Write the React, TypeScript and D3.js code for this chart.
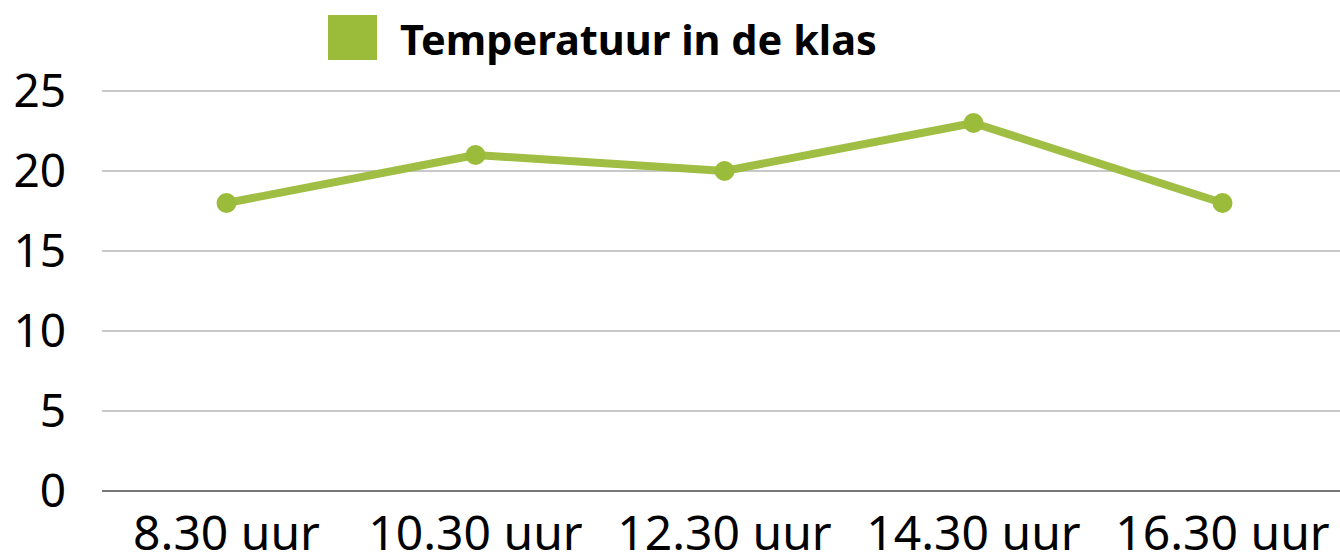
import React, { useRef, useEffect } from 'react';
import * as d3 from 'd3';

const categories = ['8.30 uur', '10.30 uur', '12.30 uur', '14.30 uur', '16.30 uur'];
const temperatures = [18, 21, 20, 23, 18];
const yTicks = [0, 5, 10, 15, 20, 25];
const seriesName = 'Temperatuur in de klas';

function App() {
  const chartRef = useRef<SVGSVGElement>(null);

  useEffect(() => {
    const svg = d3.select(chartRef.current);
    svg.selectAll('*').remove();

    const width = 1340;
    const green = '#9bbb3b';
    const font = '"Noto Sans", sans-serif';

    const xScale = d3.scaleBand<string>().domain(categories).range([102, 1347]);
    const yScale = d3.scaleLinear().domain([0, 25]).range([491, 91]);
    const xMid = (c: string) => xScale(c)! + xScale.bandwidth() / 2;

    // gridlines
    svg.append('g')
      .selectAll('line')
      .data(yTicks.filter((t) => t > 0))
      .join('line')
      .attr('x1', 102)
      .attr('x2', width)
      .attr('y1', (d) => yScale(d))
      .attr('y2', (d) => yScale(d))
      .attr('stroke', '#c8c8c8')
      .attr('stroke-width', 2);

    svg.append('line')
      .attr('x1', 102)
      .attr('x2', width)
      .attr('y1', yScale(0))
      .attr('y2', yScale(0))
      .attr('stroke', '#777')
      .attr('stroke-width', 2);

    // y labels
    svg.append('g')
      .selectAll('text')
      .data(yTicks)
      .join('text')
      .attr('x', 66)
      .attr('y', (d) => yScale(d))
      .attr('dy', '0.35em')
      .attr('text-anchor', 'end')
      .attr('font-family', font)
      .attr('font-size', 46)
      .attr('fill', '#000')
      .text((d) => d);

    // x labels
    svg.append('g')
      .selectAll('text')
      .data(categories)
      .join('text')
      .attr('x', (d) => xMid(d))
      .attr('y', 550)
      .attr('text-anchor', 'middle')
      .attr('font-family', font)
      .attr('font-size', 48)
      .attr('fill', '#000')
      .text((d) => d);

    const line = d3.line<number>()
      .x((d, i) => xMid(categories[i]))
      .y((d) => yScale(d));

    svg.append('path')
      .datum(temperatures)
      .attr('fill', 'none')
      .attr('stroke', green)
      .attr('stroke-width', 8)
      .attr('stroke-linejoin', 'round')
      .attr('opacity', 0.96)
      .attr('d', line);

    svg.append('g')
      .selectAll('circle')
      .data(temperatures)
      .join('circle')
      .attr('cx', (d, i) => xMid(categories[i]))
      .attr('cy', (d) => yScale(d))
      .attr('r', 10)
      .attr('fill', green);

    // legend
    svg.append('rect')
      .attr('x', 328)
      .attr('y', 15)
      .attr('width', 49)
      .attr('height', 45)
      .attr('fill', green);

    svg.append('text')
      .attr('x', 400)
      .attr('y', 55)
      .attr('font-family', font)
      .attr('font-weight', 'bold')
      .attr('font-size', 41.5)
      .attr('fill', '#000')
      .text(seriesName);
  }, []);

  return <svg ref={chartRef} width={1340} height={556} style={{ position: 'absolute', left: 0, top: 0 }}></svg>;
}

export default App;
